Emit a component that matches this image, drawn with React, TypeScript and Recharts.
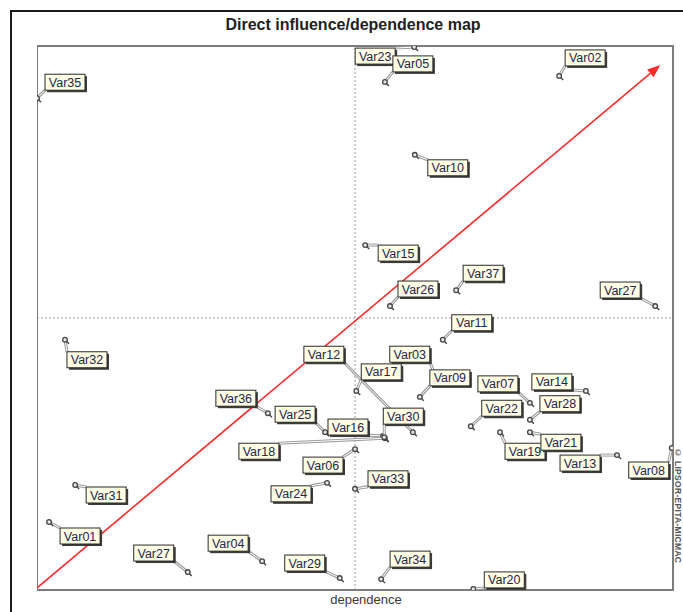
import React from "react";
import { ScatterChart, Scatter, XAxis, YAxis, ReferenceLine, ReferenceArea } from "recharts";

// MICMAC direct influence / dependence map (values scaled 0-100 on both axes)
const variables = [
  "Var35", "Var23", "Var05", "Var02", "Var10", "Var15", "Var37", "Var26", "Var27", "Var11",
  "Var32", "Var03", "Var12", "Var17", "Var09", "Var07", "Var14", "Var28", "Var22", "Var19",
  "Var21", "Var13", "Var08", "Var36", "Var25", "Var16", "Var18", "Var30", "Var06", "Var24",
  "Var33", "Var31", "Var01", "Var27", "Var04", "Var29", "Var34", "Var20",
];
const dependence = [
  0, 59.3, 54.7, 82.1, 59.4, 51.6, 65.9, 55.5, 97.2, 63.8,
  4.4, 62.7, 59.1, 50.2, 60.2, 77.5, 86.3, 77.5, 68.2, 72.8,
  77.5, 91.2, 99.8, 36.3, 45.3, 54.4, 54.7, 54.6, 50.0, 45.6,
  50.0, 6.0, 1.9, 23.7, 35.4, 47.6, 54.1, 68.6,
];
const influence = [
  90.4, 99.8, 93.4, 94.5, 80.0, 63.4, 55.1, 52.2, 52.2, 46.0,
  46.0, 39.3, 29.0, 36.6, 35.5, 34.4, 36.6, 31.3, 30.1, 29.0,
  29.0, 24.8, 26.1, 32.5, 29.0, 28.3, 27.9, 28.1, 25.9, 19.7,
  18.6, 19.3, 12.5, 3.3, 5.3, 2.2, 2.0, 0.2,
];

// where each label box sits relative to its point (px)
const labelOffsets: [number, number][] = [
  [8, -24], [-59, 1], [8, -26], [6, -26], [13, 5], [13, 0], [7, -25], [8, -25], [-55, -24], [9, -25],
  [2, 12], [-46, -30], [-109, -86], [5, -27], [10, -27], [-52, -27], [-54, -17], [10, -24], [11, -26], [5, 11],
  [11, 2], [-57, 0], [-43, 14], [-52, -23], [-50, -26], [-55, -17], [-146, 5], [-1, -29], [-52, 8], [-56, 3],
  [13, -18], [11, 2], [11, 6], [-54, -27], [-54, -26], [-55, -23], [9, -28], [11, -17],
];

const arrowStart = { x: 0, y: 0.4 };
const arrowEnd = { x: 98, y: 96.5 };

const data = variables.map((name, i) => ({ name, i, x: dependence[i], y: influence[i] }));

const BOX_W = 40;
const BOX_H = 16;
const FONT = "'Liberation Sans', Arial, sans-serif";
const NARROW = "'Liberation Sans Narrow', 'Arial Narrow', 'Liberation Sans', Arial, sans-serif";

function boxFor(cx: number, cy: number, i: number) {
  const [dx, dy] = labelOffsets[i];
  return { bx: cx + dx, by: cy + dy };
}

function PointMark(props: any) {
  const { cx, cy, payload } = props;
  if (cx == null || cy == null) return null;
  const { bx, by } = boxFor(cx, cy, payload.i);
  const tx = Math.max(bx, Math.min(cx, bx + BOX_W));
  const ty = Math.max(by, Math.min(cy, by + BOX_H));
  return (
    <g>
      <line x1={cx} y1={cy} x2={tx} y2={ty} stroke="#9a9a9a" strokeWidth={3} />
      <line x1={cx} y1={cy} x2={tx} y2={ty} stroke="#ffffff" strokeWidth={1} />
      <line x1={cx + 1.5} y1={cy + 1.5} x2={cx + 4} y2={cy + 4} stroke="#444" strokeWidth={1.4} />
      <circle cx={cx} cy={cy} r={2.3} fill="#e8e8e8" stroke="#444" strokeWidth={1.3} />
    </g>
  );
}

function LabelMark(props: any) {
  const { cx, cy, payload } = props;
  if (cx == null || cy == null) return null;
  const { bx, by } = boxFor(cx, cy, payload.i);
  return (
    <g>
      <rect x={bx + 2} y={by + 2} width={BOX_W} height={BOX_H} fill="#3c3c3c" />
      <rect x={bx} y={by} width={BOX_W} height={BOX_H} fill="#fffde4" stroke="#2a2a2a" strokeWidth={1} />
      <text x={bx + BOX_W / 2} y={by + BOX_H - 3.5} textAnchor="middle" fontSize={12.5} fontFamily={FONT} fill="#232650">
        {payload.name}
      </text>
    </g>
  );
}

function Arrow(props: any) {
  const { x1, y1, x2, y2 } = props;
  if (x1 == null) return null;
  const ang = Math.atan2(y2 - y1, x2 - x1);
  const len = 13;
  const half = 5;
  const bx = x2 - len * Math.cos(ang);
  const by = y2 - len * Math.sin(ang);
  const px = -Math.sin(ang) * half;
  const py = Math.cos(ang) * half;
  return (
    <g>
      <line x1={x1} y1={y1} x2={bx} y2={by} stroke="#ff2a2a" strokeWidth={1.6} />
      <polygon points={`${x2},${y2} ${bx + px},${by + py} ${bx - px},${by - py}`} fill="#ff2a2a" />
    </g>
  );
}

export default function App() {
  return (
    <div style={{ position: "absolute", left: 0, top: 0, width: 683, height: 612, overflow: "hidden", background: "#fff" }}>
      <div style={{ position: "absolute", left: 10, top: 10, width: 720, height: 640, border: "2px solid #1a1a1a" }} />
      <div
        style={{
          position: "absolute", left: 0, width: 706, top: 16, textAlign: "center",
          fontFamily: NARROW, fontWeight: "bold", fontSize: 16, color: "#222",
        }}
      >
        Direct influence/dependence map
      </div>
      <div style={{ position: "absolute", left: 37, top: 0 }}>
        <ScatterChart width={646} height={612} margin={{ left: 0, right: 10, top: 46, bottom: 22 }}>
          <XAxis type="number" dataKey="x" domain={[0, 100]} allowDataOverflow hide />
          <YAxis type="number" dataKey="y" domain={[0, 100]} allowDataOverflow hide />
          <ReferenceArea x1={0} x2={100} y1={0} y2={100} fill="none" stroke="#7c7c7c" strokeWidth={2} />
          <ReferenceLine x={50} stroke="#9a9a9a" strokeDasharray="2 2" />
          <ReferenceLine y={50} stroke="#9a9a9a" strokeDasharray="2 2" />
          <Scatter data={data} shape={PointMark} isAnimationActive={false} />
          <Scatter data={data} shape={LabelMark} isAnimationActive={false} />
          <ReferenceLine segment={[arrowStart, arrowEnd]} shape={Arrow} />
        </ScatterChart>
      </div>
      <div
        style={{
          position: "absolute", left: 326, top: 592, width: 80, textAlign: "center",
          fontFamily: FONT, fontSize: 13, color: "#3a3a3a",
        }}
      >
        dependence
      </div>
      <div
        style={{
          position: "absolute", left: 673, top: 448, writingMode: "vertical-rl",
          fontFamily: FONT, fontWeight: "bold", fontSize: 8.5, color: "#555", letterSpacing: 0.3,
        }}
      >
        © LIPSOR-EPITA-MICMAC
      </div>
    </div>
  );
}
